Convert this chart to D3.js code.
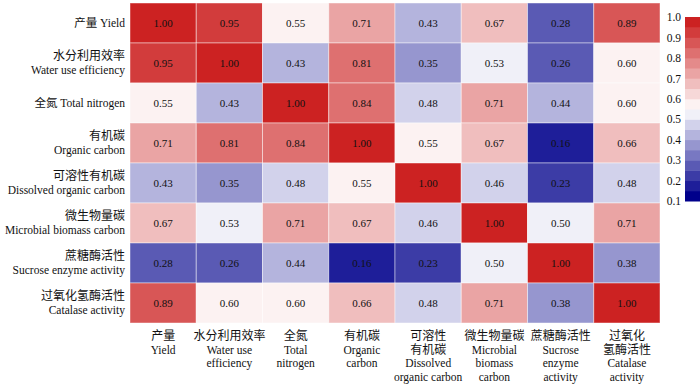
<!DOCTYPE html>
<html>
<head>
<meta charset="utf-8">
<script src="https://cdn.jsdelivr.net/npm/d3@7"></script>
<style>
  body { margin: 0; background: #fff; }
  text { font-family: "Liberation Serif", "Noto Sans CJK SC", serif; fill: #111; }
</style>
</head>
<body>
<div id="chart"></div>
<script>
const width = 700, height = 385;
const margin = { top: 3, left: 130, right: 40, bottom: 62 };

// variables (rows and columns share the same order)
const keys = ["yield", "wue", "tn", "oc", "doc", "mbc", "sucrase", "catalase"];
const rowLabels = [
  ["产量 Yield"],
  ["水分利用效率", "Water use efficiency"],
  ["全氮 Total nitrogen"],
  ["有机碳", "Organic carbon"],
  ["可溶性有机碳", "Dissolved organic carbon"],
  ["微生物量碳", "Microbial biomass carbon"],
  ["蔗糖酶活性", "Sucrose enzyme activity"],
  ["过氧化氢酶活性", "Catalase activity"]
];
const colLabels = [
  ["产量", "Yield"],
  ["水分利用效率", "Water use", "efficiency"],
  ["全氮", "Total", "nitrogen"],
  ["有机碳", "Organic", "carbon"],
  ["可溶性", "有机碳", "Dissolved", "organic carbon"],
  ["微生物量碳", "Microbial", "biomass", "carbon"],
  ["蔗糖酶活性", "Sucrose", "enzyme", "activity"],
  ["过氧化", "氢酶活性", "Catalase", "activity"]
];
// correlation matrix, row by row
const values = [
  [1.00, 0.95, 0.55, 0.71, 0.43, 0.67, 0.28, 0.89],
  [0.95, 1.00, 0.43, 0.81, 0.35, 0.53, 0.26, 0.60],
  [0.55, 0.43, 1.00, 0.84, 0.48, 0.71, 0.44, 0.60],
  [0.71, 0.81, 0.84, 1.00, 0.55, 0.67, 0.16, 0.66],
  [0.43, 0.35, 0.48, 0.55, 1.00, 0.46, 0.23, 0.48],
  [0.67, 0.53, 0.71, 0.67, 0.46, 1.00, 0.50, 0.71],
  [0.28, 0.26, 0.44, 0.16, 0.23, 0.50, 1.00, 0.38],
  [0.89, 0.60, 0.60, 0.66, 0.48, 0.71, 0.38, 1.00]
];
const legendTicks = [0.1, 0.2, 0.3, 0.4, 0.5, 0.6, 0.7, 0.8, 0.9, 1.0];

const cells = [];
values.forEach((row, i) => row.forEach((v, j) => cells.push({ r: keys[i], c: keys[j], v })));

const isCJK = t => /[\u4e00-\u9fff]/.test(t);

const svg = d3.select("#chart").append("svg")
  .attr("width", width).attr("height", height);

const x = d3.scaleBand().domain(keys).range([margin.left, width - margin.right]);
const y = d3.scaleBand().domain(keys).range([margin.top, height - margin.bottom]);

// stepped blue-white-red palette, 18 bins of 0.05
const nBins = 18;
const interp = d3.piecewise(d3.interpolateRgb, ["#00008b", "#ffffff", "#cc2222"]);
const binColors = d3.range(nBins).map(i => interp(i / (nBins - 1)));
const color = d3.scaleQuantize().domain([0.1, 1.0]).range(binColors);

svg.append("g").selectAll("rect")
  .data(cells)
  .join("rect")
  .attr("x", d => x(d.c))
  .attr("y", d => y(d.r))
  .attr("width", x.bandwidth())
  .attr("height", y.bandwidth())
  .attr("fill", d => color(d.v))
  .attr("stroke", "#fff")
  .attr("stroke-opacity", 0.45)
  .attr("stroke-width", 1);

svg.append("g").selectAll("text")
  .data(cells)
  .join("text")
  .attr("x", d => x(d.c) + x.bandwidth() / 2)
  .attr("y", d => y(d.r) + y.bandwidth() / 2)
  .attr("dy", "0.35em")
  .attr("text-anchor", "middle")
  .style("font-size", "11px")
  .text(d => d.v.toFixed(2));

// row labels
const rowG = svg.append("g").selectAll("g")
  .data(keys)
  .join("g")
  .attr("transform", k => `translate(${margin.left - 5},${y(k) + y.bandwidth() / 2})`);

rowG.each(function (k, i) {
  const lines = rowLabels[i];
  const g = d3.select(this);
  lines.forEach((t, li) => {
    const off = lines.length === 1 ? 0 : (li === 0 ? -7 : 7);
    g.append("text")
      .attr("text-anchor", "end")
      .attr("y", off)
      .attr("dy", "0.35em")
      .style("font-size", isCJK(t) && lines.length > 1 ? "12px" : "11.5px")
      .text(t);
  });
});

// column labels
const colG = svg.append("g").selectAll("g")
  .data(keys)
  .join("g")
  .attr("transform", k => `translate(${x(k) + x.bandwidth() / 2},${height - margin.bottom})`);

colG.each(function (k, i) {
  const g = d3.select(this);
  colLabels[i].forEach((t, li) => {
    g.append("text")
      .attr("text-anchor", "middle")
      .attr("y", 13 + li * 13.5)
      .attr("dy", "0.35em")
      .style("font-size", isCJK(t) ? "12px" : "11.5px")
      .text(t);
  });
});

// colour legend
const lg = { x: 685, w: 15, top: 17, bottom: 201 };
const ly = d3.scaleLinear().domain([0.1, 1.0]).range([lg.bottom, lg.top]);
const legend = svg.append("g");
legend.selectAll("rect")
  .data(binColors)
  .join("rect")
  .attr("x", lg.x)
  .attr("width", lg.w)
  .attr("y", (c, i) => ly(0.1 + (i + 1) * 0.05))
  .attr("height", (c, i) => ly(0.1 + i * 0.05) - ly(0.1 + (i + 1) * 0.05) + 0.5)
  .attr("fill", c => c);

const legendAxis = d3.axisLeft(ly)
  .tickValues(legendTicks)
  .tickFormat(d3.format(".1f"))
  .tickSize(0)
  .tickPadding(4);
legend.append("g")
  .attr("transform", `translate(${lg.x},0)`)
  .call(legendAxis)
  .call(g => g.select(".domain").remove())
  .call(g => g.selectAll("text").style("font-size", "11.5px").style("font-family", "Liberation Serif").attr("fill", "#111"));
</script>
</body>
</html>
